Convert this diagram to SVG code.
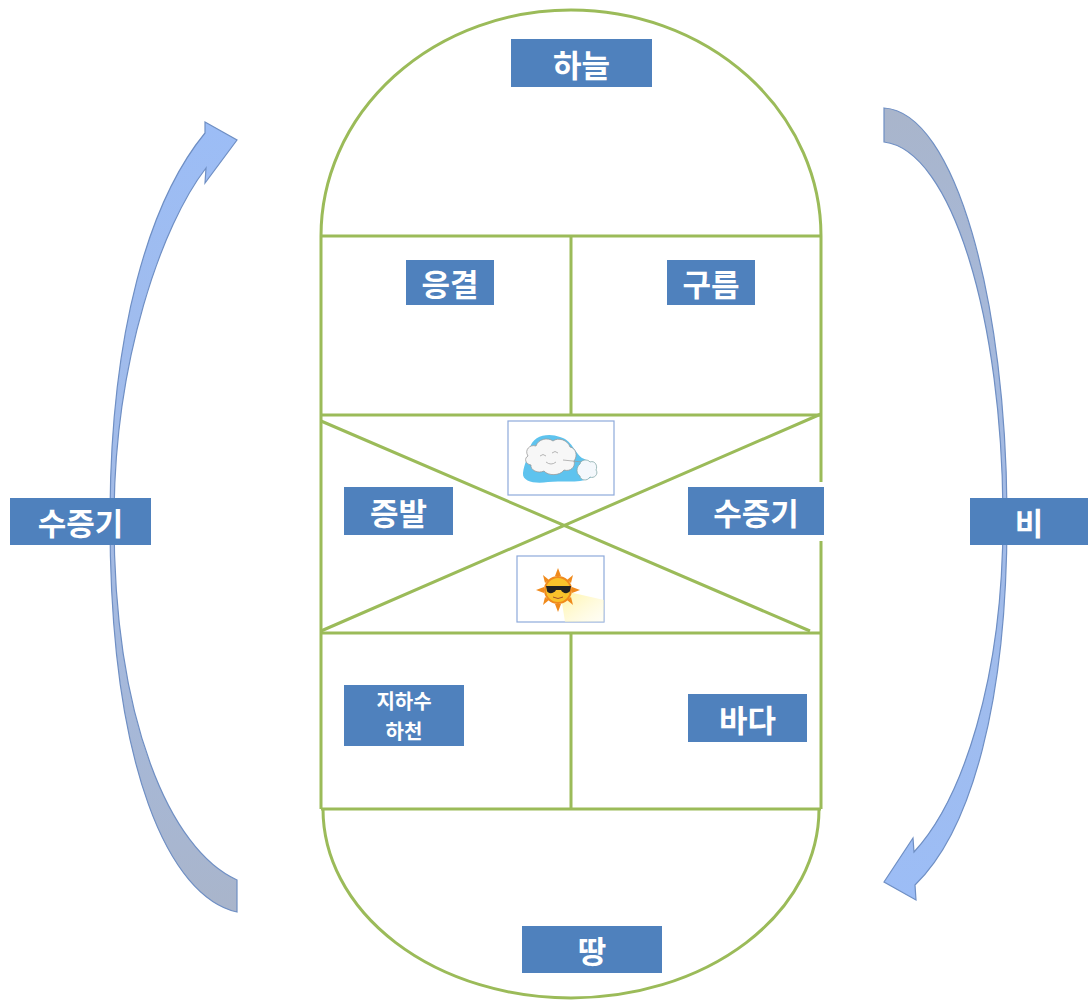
<svg xmlns="http://www.w3.org/2000/svg" width="1088" height="1000" viewBox="0 0 1088 1000">
  <style>
    .frame { fill: none; stroke: #9bbb59; stroke-width: 3; }
    .box { fill: #4f81bd; }
    .lbl { fill: #ffffff; font-family: "Noto Sans CJK KR", "Noto Sans", sans-serif; font-weight: bold; font-size: 31px; text-anchor: middle; dominant-baseline: central; }
    .lbl-sm { font-size: 20px; }
    .icon { fill: #ffffff; stroke: #8eaadb; stroke-width: 1.2; }
    .arrow { stroke: #6f8fc4; stroke-width: 1.2; }
  </style>
  <defs>
    <linearGradient id="gradUp" x1="0" y1="0" x2="0" y2="1">
      <stop offset="0" stop-color="#9cbdf6"/>
      <stop offset="0.5" stop-color="#a3bbe6"/>
      <stop offset="1" stop-color="#a9b5cb"/>
    </linearGradient>
    <linearGradient id="gradDown" x1="0" y1="0" x2="0" y2="1">
      <stop offset="0" stop-color="#a9b5cb"/>
      <stop offset="0.5" stop-color="#a3bbe6"/>
      <stop offset="1" stop-color="#9cbdf6"/>
    </linearGradient>
    <linearGradient id="beam" x1="0" y1="0" x2="1" y2="1">
      <stop offset="0" stop-color="#fff3a0"/>
      <stop offset="1" stop-color="#fffbe0" stop-opacity="0.3"/>
    </linearGradient>
  </defs>

  <!-- cycle arrows -->
  <g id="connectors">
    <path class="arrow" fill="url(#gradUp)" d="M237,912 C170,897 110,770 110,520 C110,330 150,200 205,133 L205,122 L237,140 L205,183 L206,168 C162,225 114,360 114,520 C114,720 170,850 237,880 Z"/>
    <path class="arrow" fill="url(#gradDown)" d="M884,108 C955,112 1007,300 1007,520 C1007,700 972,830 915,885 L916,900 L884,882 L913,838 L914,852 C962,800 1003,680 1003,520 C1003,320 952,150 884,142 Z"/>
  </g>

  <!-- capsule frame -->
  <g id="frame">
    <path class="frame" d="M321,236 A250,226 0 0 1 821,236"/>
    <path class="frame" d="M323,809 A248,189 0 0 0 819,809"/>
    <path class="frame" d="M321,236 H821 M321,415 H821 M321,633 H821 M321,809 H821"/>
    <path class="frame" d="M321,236 V809 M821,236 V482 M821,541 V809"/>
    <path class="frame" d="M571,236 V415 M571,633 V809"/>
    <path class="frame" d="M321,421 L810,631 M321,631 L821,414"/>
  </g>

  <!-- cloud picture -->
  <g id="icon-cloud">
    <rect class="icon" x="508" y="421" width="106" height="74"/>
    <path fill="#5ec3ee" d="M530,448 C532,436 548,432 560,437 C572,440 574,452 582,458 C592,462 600,470 590,478 C578,484 560,480 548,482 C536,484 522,482 523,473 C524,464 528,458 530,448 Z"/>
    <path fill="#f7f7f7" stroke="#9a9a9a" stroke-width="0.8" d="M528,456 C524,450 530,444 536,446 C538,439 548,437 553,441 C558,437 568,440 570,447 C576,448 578,456 574,461 C576,467 570,472 564,470 C560,476 548,476 544,471 C538,474 530,470 531,465 C525,464 524,458 528,456 Z"/>
    <path fill="none" stroke="#999" stroke-width="0.7" d="M540,456 q3,-3 6,0 M552,453 q3,-3 6,0 M546,462 q5,4 10,0 M563,460 L582,462"/>
    <path fill="#f4f8fc" stroke="#8aa" stroke-width="0.8" d="M580,464 C581,459 588,459 590,462 C595,460 598,466 596,470 C599,474 594,479 590,477 C587,482 580,480 580,476 C576,474 576,467 580,464 Z"/>
  </g>

  <!-- sun picture -->
  <g id="icon-sun">
    <rect class="icon" x="517" y="556" width="87" height="66"/>
    <path fill="url(#beam)" d="M560,590 L604,600 L604,622 L565,622 Z"/>
    <g fill="#f08a1c">
      <polygon points="558,568 561,576 555,576"/>
      <polygon points="558,612 561,604 555,604"/>
      <polygon points="536,590 544,587 544,593"/>
      <polygon points="580,590 572,587 572,593"/>
      <polygon points="543,575 549,580 545,583"/>
      <polygon points="573,575 567,580 571,583"/>
      <polygon points="543,605 549,600 545,597"/>
      <polygon points="573,605 567,600 571,597"/>
    </g>
    <circle cx="558" cy="590" r="13" fill="#f9c22b" stroke="#f08a1c" stroke-width="2"/>
    <path fill="#222" d="M546,586 H571 L570,591 C568,594 563,594 561,590 L556,590 C554,594 548,594 547,591 Z"/>
    <path fill="none" stroke="#a0522d" stroke-width="1" d="M553,597 q5,3 10,0"/>
  </g>

  <!-- labels -->
  <g id="node-sky"><rect class="box" x="511" y="39" width="141" height="48"/><text class="lbl" x="581.5" y="63">하늘</text></g>
  <g id="node-condensation"><rect class="box" x="406" y="260" width="88" height="45"/><text class="lbl" x="450" y="282.5">응결</text></g>
  <g id="node-cloud"><rect class="box" x="667" y="260" width="88" height="45"/><text class="lbl" x="711" y="282.5">구름</text></g>
  <g id="node-evaporation"><rect class="box" x="344" y="487" width="109" height="48"/><text class="lbl" x="398.5" y="511">증발</text></g>
  <g id="node-vapor-inner"><rect class="box" x="688" y="487" width="136" height="48"/><text class="lbl" x="756" y="511">수증기</text></g>
  <g id="node-groundwater"><rect class="box" x="344" y="685" width="120" height="61"/><text class="lbl lbl-sm" x="404" y="700.5">지하수</text><text class="lbl lbl-sm" x="404" y="730">하천</text></g>
  <g id="node-sea"><rect class="box" x="688" y="694" width="119" height="48"/><text class="lbl" x="747.5" y="718">바다</text></g>
  <g id="node-ground"><rect class="box" x="522" y="926" width="140" height="47"/><text class="lbl" x="592" y="949.5">땅</text></g>
  <g id="node-vapor-left"><rect class="box" x="10" y="498" width="141" height="47"/><text class="lbl" x="80.5" y="521.5">수증기</text></g>
  <g id="node-rain"><rect class="box" x="970" y="498" width="118" height="47"/><text class="lbl" x="1029" y="521.5">비</text></g>
</svg>
